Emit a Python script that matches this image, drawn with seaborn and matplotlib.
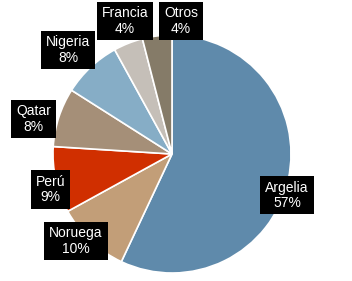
import matplotlib
matplotlib.use("Agg")
import matplotlib.pyplot as plt
import seaborn as sns

# data
countries = ['Argelia', 'Noruega', 'Perú', 'Qatar', 'Nigeria', 'Francia', 'Otros']
shares = [57, 10, 9, 8, 8, 4, 4]
colors = ['#5f8aab', '#c29e78', '#d02f00', '#a58f78', '#86adc6', '#c5bfb8', '#857b68']

# label box centres (data units, pie radius = 1)
label_pos = [(0.966, -0.345), (-0.807, -0.731), (-1.021, -0.298), (-1.164, 0.294),
             (-0.874, 0.874), (-0.395, 1.118), (0.076, 1.118)]

sns.set_style('white')
plt.rcParams['font.family'] = ['Liberation Sans', 'DejaVu Sans']

fig = plt.figure(figsize=(3.52, 2.81), dpi=100)
ax = fig.add_axes([0, 0, 1, 1])
ax.pie(shares, colors=colors, startangle=90, counterclock=False,
       radius=1, wedgeprops=dict(edgecolor='white', linewidth=1.2))

for name, val, (x, y) in zip(countries, shares, label_pos):
    ax.text(x, y, f"{name}\n{val}%", ha='center', va='center', color='white',
            fontsize=10, linespacing=1.1,
            bbox=dict(boxstyle='square,pad=0.35', facecolor='black', edgecolor='none'))

r_px = 119
cx, cy = 172, 154
ax.set_xlim(-cx / r_px, (352 - cx) / r_px)
ax.set_ylim(-(281 - cy) / r_px, cy / r_px)
ax.set_aspect('auto')
ax.axis('off')

fig.savefig('out.png', dpi=100, facecolor='white')
